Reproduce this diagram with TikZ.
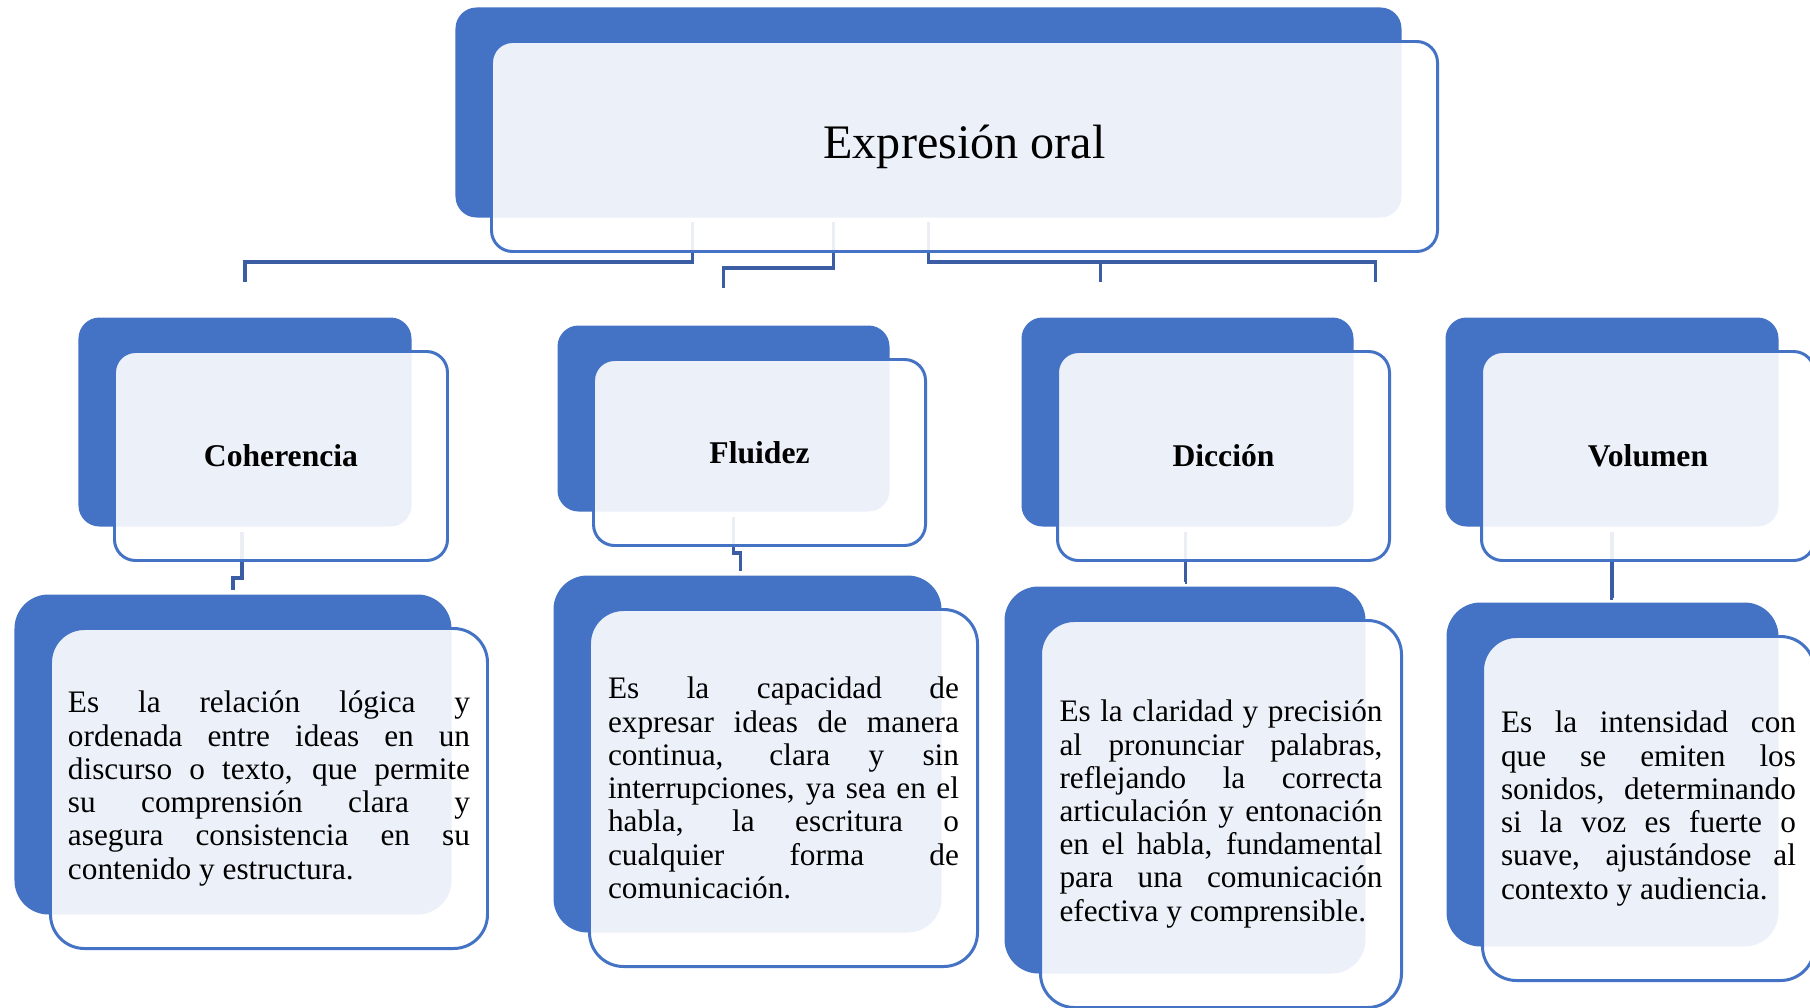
\documentclass[tikz,border=0pt]{standalone}
\usepackage{fontspec}
\setmainfont{Liberation Serif}
\usepackage{tikz}
\usetikzlibrary{positioning}
\definecolor{mycontour}{HTML}{4472C4}
\definecolor{myline}{HTML}{3A5DA3}
\newcommand{\titulo}{\fontsize{9}{10.8}\selectfont\bfseries}
\newcommand{\texto}{\fontsize{8.9}{9.45}\selectfont}
\setlength{\parindent}{0pt}
\tolerance=10000
\hyphenpenalty=10000

\begin{document}
\begin{tikzpicture}[
    line width=0.85pt,
    node distance=0.34cm and 0.36cm,
    fondo/.style={
      rectangle, rounded corners=#1, inner sep=0pt,
      anchor=north west, fill=mycontour
    },
    fondo/.default=0.21cm,
    frente/.style={
      rectangle, rounded corners=#1, inner sep=0pt,
      draw=mycontour, fill=white, fill opacity=0.9, text opacity=1,
      text=black
    },
    frente/.default=0.21cm,
    definicion/.style={frente=0.34cm, align=justify, font=\texto},
    conector/.style={draw=myline, line width=0.9pt}
]
  \path[use as bounding box, fill=white] (0,0) rectangle (18.10,-10.07);

  \node[fondo, minimum width=9.46cm, minimum height=2.10cm] (expresionoralfondo) at (4.54,-0.06) {};

  \node[fondo, minimum width=3.33cm, minimum height=2.09cm] (coherenciafondo) at (0.77,-3.16) {};
  \node[fondo, minimum width=3.32cm, minimum height=1.86cm] (fluidezfondo) at (5.56,-3.24) {};
  \node[fondo, minimum width=3.32cm, minimum height=2.09cm] (diccionfondo) at (10.20,-3.16) {};
  \node[fondo, minimum width=3.33cm, minimum height=2.09cm] (volumenfondo) at (14.44,-3.16) {};

  \node[fondo=0.34cm, minimum width=4.37cm, minimum height=3.20cm] (defcoherenciafondo) at (0.13,-5.93) {};
  \node[fondo=0.34cm, minimum width=3.88cm, minimum height=3.57cm] (deffluidezfondo) at (5.52,-5.74) {};
  \node[fondo=0.34cm, minimum width=3.61cm, minimum height=3.87cm] (defdiccionfondo) at (10.03,-5.85) {};
  \node[fondo=0.34cm, minimum width=3.32cm, minimum height=3.44cm] (defvolumenfondo) at (14.45,-6.01) {};

  \coordinate (llegadacoherencia) at ([yshift=0.34cm]coherenciafondo.north);
  \coordinate (llegadafluidez) at ([yshift=0.36cm]fluidezfondo.north);
  \coordinate (llegadadiccion) at ([xshift=-0.87cm, yshift=0.34cm]diccionfondo.north);
  \coordinate (llegadavolumen) at ([xshift=-2.365cm, yshift=0.34cm]volumenfondo.north);

  \draw[conector] ([xshift=-2.36cm, yshift=-0.03cm]expresionoralfondo.south)
    |- ([yshift=0.2cm]llegadacoherencia) -- (llegadacoherencia);
  \draw[conector] ([xshift=-0.95cm, yshift=-0.03cm]expresionoralfondo.south)
    |- ([yshift=0.2cm]llegadafluidez) -- (llegadafluidez);
  \draw[conector] ([yshift=-0.03cm]expresionoralfondo.south)
    |- ([yshift=0.2cm]llegadavolumen) -- (llegadavolumen);
  \draw[conector] ([yshift=0.2cm]llegadadiccion) -- (llegadadiccion);

  \draw[conector] ([xshift=-0.03cm, yshift=-0.04cm]coherenciafondo.south)
    -- ++(0,-0.46) -| ([yshift=0.03cm]defcoherenciafondo.north);
  \draw[conector] ([xshift=0.10cm, yshift=-0.04cm]fluidezfondo.south)
    -- ++(0,-0.36) -| ([xshift=-0.07cm, yshift=0.03cm]deffluidezfondo.north);
  \draw[conector] ([xshift=-0.02cm, yshift=-0.04cm]diccionfondo.south)
    |- ([yshift=0.03cm]defdiccionfondo.north);
  \draw[conector] ([yshift=-0.04cm]volumenfondo.south)
    |- ([yshift=0.03cm]defvolumenfondo.north);

  \node[frente, minimum width=9.46cm, minimum height=2.10cm,
    font=\fontsize{13.7}{16}\selectfont,
    below right=of expresionoralfondo.north west] (expresionoral) {Expresión oral};

  \node[frente, minimum width=3.33cm, minimum height=2.09cm, font=\titulo,
    below right=of coherenciafondo.north west] (coherencia) {Coherencia};
  \node[frente, minimum width=3.32cm, minimum height=1.86cm, font=\titulo,
    below right=of fluidezfondo.north west] (fluidez) {Fluidez};
  \node[frente, minimum width=3.32cm, minimum height=2.09cm, font=\titulo,
    below right=of diccionfondo.north west] (diccion) {Dicción};
  \node[frente, minimum width=3.33cm, minimum height=2.09cm, font=\titulo,
    below right=of volumenfondo.north west] (volumen) {Volumen};

  \node[definicion, minimum width=4.37cm, minimum height=3.20cm, text width=4.02cm,
    below right=of defcoherenciafondo.north west] (defcoherencia) {
    Es la relación lógica y\linebreak
    ordenada entre ideas en un\linebreak
    discurso o texto, que permite\linebreak
    su comprensión clara y\linebreak
    asegura consistencia en su\linebreak
    contenido y estructura.
  };
  \node[definicion, minimum width=3.88cm, minimum height=3.57cm, text width=3.51cm,
    below right=of deffluidezfondo.north west] (deffluidez) {
    Es la capacidad de\linebreak
    expresar ideas de manera\linebreak
    continua, clara y sin\linebreak
    interrupciones, ya sea en el\linebreak
    habla, la escritura o\linebreak
    cualquier forma de\linebreak
    comunicación.
  };
  \node[definicion, minimum width=3.61cm, minimum height=3.87cm, text width=3.23cm,
    below right=of defdiccionfondo.north west] (defdiccion) {
    Es la claridad y precisión\linebreak
    al pronunciar palabras,\linebreak
    reflejando la correcta\linebreak
    articulación y entonación\linebreak
    en el habla, fundamental\linebreak
    para una comunicación\linebreak
    efectiva y comprensible.
  };
  \node[definicion, minimum width=3.32cm, minimum height=3.44cm, text width=2.95cm,
    below right=of defvolumenfondo.north west] (defvolumen) {
    Es la intensidad con\linebreak
    que se emiten los\linebreak
    sonidos, determinando\linebreak
    si la voz es fuerte o\linebreak
    suave, ajustándose al\linebreak
    contexto y audiencia.
  };
\end{tikzpicture}
\end{document}
